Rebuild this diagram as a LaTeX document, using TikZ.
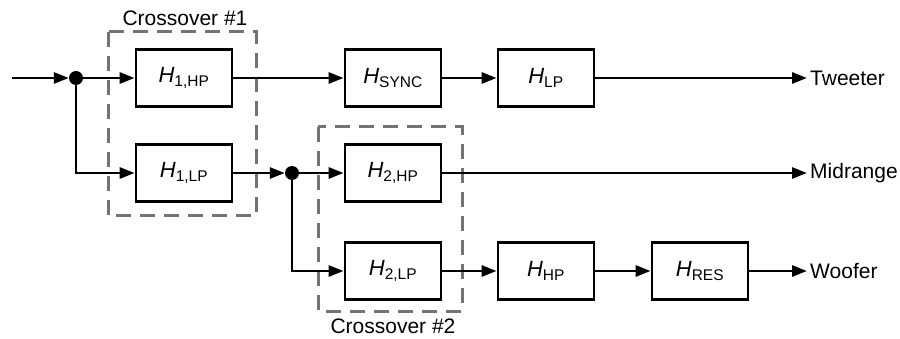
\documentclass[tikz,border=0pt]{standalone}
\usepackage{fontspec}
\setmainfont{Liberation Sans}
\usetikzlibrary{arrows.meta}
\begin{document}
\begin{tikzpicture}[x=1pt,y=-1pt,
  blk/.style={draw, line width=2.8pt, minimum width=96pt, minimum height=57pt, inner sep=0pt, font=\fontsize{22}{24}\selectfont},
  sig/.style={line width=2.8pt, -{Triangle[length=15pt,width=11pt]}},
  grp/.style={draw=black!55, line width=3pt, dash pattern=on 15pt off 9pt},
  dot/.style={circle, fill=black, inner sep=0pt, minimum size=14pt},
  lbl/.style={font=\fontsize{21}{23}\selectfont, inner sep=0pt},
  outl/.style={font=\fontsize{21}{23}\selectfont, anchor=west, inner xsep=3pt, inner ysep=0pt}]
\useasboundingbox (0,0) rectangle (900,339);
\newcommand{\tf}[2]{\textit{#1}\textsubscript{\fontsize{15.5}{17}\selectfont #2}}
% crossover groups
\draw[grp] (108,32) rectangle (256,216);
\draw[grp] (318,127) rectangle (462,311);
\node[lbl] (c1) at (185,18) {Crossover \#1};
\node[lbl] (c2) at (393,326) {Crossover \#2};
% blocks
\node[blk] (h1hp) at (184,78) {\tf{H}{1,HP}};
\node[blk] (h1lp) at (184,173) {\tf{H}{1,LP}};
\node[blk] (hsync) at (393,78) {\tf{H}{SYNC}};
\node[blk] (hlp) at (546,78) {\tf{H}{LP}};
\node[blk] (h2hp) at (393,173) {\tf{H}{2,HP}};
\node[blk] (h2lp) at (393,271) {\tf{H}{2,LP}};
\node[blk] (hhp) at (546,271) {\tf{H}{HP}};
\node[blk] (hres) at (700,271) {\tf{H}{RES}};
% outputs
\node[outl] (tw) at (807,78) {Tweeter};
\node[outl] (mid) at (807,173) {Midrange};
\node[outl] (woof) at (807,271) {Woofer};
% junctions
\node[dot] (d1) at (76,78) {};
\node[dot] (d2) at (292,173) {};
\coordinate (in) at (12,78);
% connectors
\draw[sig] (in) -- (d1);
\draw[sig] (d1) -- (h1hp);
\draw[sig] (d1.center) |- (h1lp);
\draw[sig] (h1hp) -- (hsync);
\draw[sig] (hsync) -- (hlp);
\draw[sig] (hlp) -- (tw);
\draw[sig] (h1lp) -- (d2);
\draw[sig] (d2) -- (h2hp);
\draw[sig] (d2.center) |- (h2lp);
\draw[sig] (h2hp) -- (mid);
\draw[sig] (h2lp) -- (hhp);
\draw[sig] (hhp) -- (hres);
\draw[sig] (hres) -- (woof);
\end{tikzpicture}
\end{document}
